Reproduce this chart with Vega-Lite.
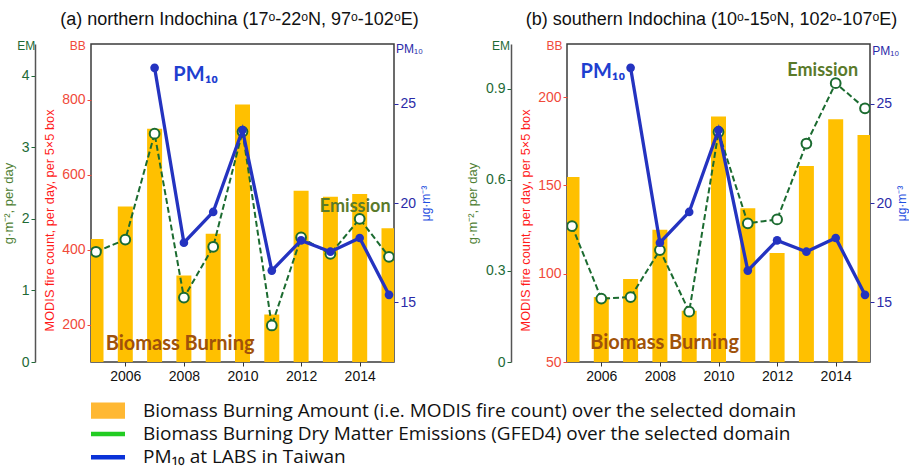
{
  "$schema": "https://vega.github.io/schema/vega-lite/v6.json",
  "padding": {"left": 1, "top": 10, "right": 0, "bottom": 0},
  "background": "white",
  "config": {
    "view": {"stroke": "#3b3b3b", "strokeWidth": 1.5},
    "axis": {"grid": false, "labelFont": "Liberation Sans", "titleFont": "Liberation Sans", "titleFontWeight": "normal", "labelFontSize": 14}
  },
  "datasets": {
    "bbA": [
      {"year": 2005, "bb": 428}, {"year": 2006, "bb": 515}, {"year": 2007, "bb": 722}, {"year": 2008, "bb": 331},
      {"year": 2009, "bb": 442}, {"year": 2010, "bb": 787}, {"year": 2011, "bb": 227}, {"year": 2012, "bb": 557},
      {"year": 2013, "bb": 541}, {"year": 2014, "bb": 548}, {"year": 2015, "bb": 457}
    ],
    "emA": [
      {"year": 2005, "em": 1.54}, {"year": 2006, "em": 1.71}, {"year": 2007, "em": 3.19}, {"year": 2008, "em": 0.9},
      {"year": 2009, "em": 1.61}, {"year": 2010, "em": 3.22}, {"year": 2011, "em": 0.51}, {"year": 2012, "em": 1.74},
      {"year": 2013, "em": 1.51}, {"year": 2014, "em": 2.0}, {"year": 2015, "em": 1.47}
    ],
    "bbB": [
      {"year": 2005, "bb": 154.7}, {"year": 2006, "bb": 86.8}, {"year": 2007, "bb": 97}, {"year": 2008, "bb": 124.9},
      {"year": 2009, "bb": 79}, {"year": 2010, "bb": 188.9}, {"year": 2011, "bb": 137}, {"year": 2012, "bb": 111.7},
      {"year": 2013, "bb": 160.9}, {"year": 2014, "bb": 187.4}, {"year": 2015, "bb": 178.5}
    ],
    "emB": [
      {"year": 2005, "em": 0.448}, {"year": 2006, "em": 0.209}, {"year": 2007, "em": 0.214}, {"year": 2008, "em": 0.369},
      {"year": 2009, "em": 0.166}, {"year": 2010, "em": 0.758}, {"year": 2011, "em": 0.457}, {"year": 2012, "em": 0.47},
      {"year": 2013, "em": 0.72}, {"year": 2014, "em": 0.919}, {"year": 2015, "em": 0.836}
    ],
    "pm": [
      {"year": 2007, "pm": 26.8}, {"year": 2008, "pm": 18.0}, {"year": 2009, "pm": 19.55}, {"year": 2010, "pm": 23.67},
      {"year": 2011, "pm": 16.6}, {"year": 2012, "pm": 18.12}, {"year": 2013, "pm": 17.55}, {"year": 2014, "pm": 18.24},
      {"year": 2015, "pm": 15.38}
    ],
    "legendRows": [
      {"label": "Biomass Burning Amount (i.e. MODIS fire count) over the selected domain", "kind": "box"},
      {"label": "Biomass Burning Dry Matter Emissions (GFED4) over the selected domain", "kind": "line"},
      {"label": "PM₁₀ at LABS in Taiwan", "kind": "line"}
    ]
  },
  "spacing": 355,
  "bounds": "flush",
  "vconcat": [
    {
      "spacing": 173,
      "bounds": "flush",
      "hconcat": [
        {
          "width": 303, "height": 318,
          "title": {"text": "(a) northern Indochina (17ᵒ-22ᵒN, 97ᵒ-102ᵒE)", "frame": "group", "anchor": "middle", "offset": 11, "fontSize": 18, "font": "Liberation Sans", "fontWeight": "normal", "color": "#111111", "dx": -3},
          "layer": [
            {
              "layer": [
                {
                  "data": {"name": "bbA"},
                  "mark": {"type": "bar", "width": 15, "clip": true, "color": "#FFC000"},
                  "encoding": {
                    "x": {"field": "year", "type": "quantitative", "scale": {"domain": [2005, 2015], "nice": false, "zero": false},
                      "axis": {"orient": "bottom", "values": [2006, 2008, 2010, 2012, 2014], "format": "d", "title": null, "domain": false, "tickSize": 4, "tickColor": "#333333", "labelColor": "#111111", "labelPadding": 3}},
                    "y": {"field": "bb", "type": "quantitative", "scale": {"domain": [100, 948], "nice": false, "zero": false},
                      "axis": {"orient": "left", "values": [200, 400, 600, 800], "domain": false, "tickSize": 4, "tickColor": "#f04a3a", "labelColor": "#f04a3a", "labelPadding": 2,
                        "title": "MODIS fire count, per day, per 5×5 box", "titleColor": "#ff1a1a", "titleFontSize": 12.8, "titlePadding": 5, "titleY": 176}}
                  }
                },
                {
                  "data": {"values": [{"year": 2005.33, "bb": 133, "label": "Biomass Burning"}]},
                  "mark": {"type": "text", "align": "left", "baseline": "alphabetic", "font": "Lato", "fontWeight": "bold", "fontSize": 20, "color": "#A0520A"},
                  "encoding": {"x": {"field": "year", "type": "quantitative"}, "y": {"field": "bb", "type": "quantitative"}, "text": {"field": "label"}}
                },
                {
                  "data": {"values": [{"year": 2004.65, "bb": 948, "label": "BB"}]},
                  "mark": {"type": "text", "align": "right", "baseline": "middle", "dy": 2, "font": "Liberation Sans", "fontSize": 12, "color": "#f04a3a"},
                  "encoding": {"x": {"field": "year", "type": "quantitative"}, "y": {"field": "bb", "type": "quantitative"}, "text": {"field": "label"}}
                }
              ]
            },
            {
              "layer": [
                {
                  "data": {"name": "emA"},
                  "mark": {"type": "line", "strokeDash": [6, 3], "strokeWidth": 2, "color": "#1b6b30", "clip": true},
                  "encoding": {
                    "x": {"field": "year", "type": "quantitative"},
                    "y": {"field": "em", "type": "quantitative", "scale": {"domain": [0, 4.443], "nice": false, "zero": false},
                      "axis": {"orient": "left", "offset": 56, "values": [0, 1, 2, 3, 4], "format": "d", "domainColor": "#555555", "domainWidth": 1.5, "tickSize": 4, "tickColor": "#1e6a35", "labelColor": "#1e6a35", "labelPadding": 2,
                        "title": "g·m⁻², per day", "titleColor": "#4f7f35", "titleFontSize": 13, "titlePadding": 6}}
                  }
                },
                {
                  "data": {"name": "emA"},
                  "mark": {"type": "point", "filled": true, "fill": "white", "stroke": "#1b6b30", "strokeWidth": 2, "size": 95, "opacity": 1, "clip": true},
                  "encoding": {"x": {"field": "year", "type": "quantitative"}, "y": {"field": "em", "type": "quantitative"}}
                },
                {
                  "data": {"values": [{"year": 2012.64, "em": 2.1, "label": "Emission"}]},
                  "mark": {"type": "text", "align": "left", "baseline": "alphabetic", "font": "Lato", "fontWeight": "bold", "fontSize": 18, "color": "#5a7a2a"},
                  "encoding": {"x": {"field": "year", "type": "quantitative"}, "y": {"field": "em", "type": "quantitative"}, "text": {"field": "label"}}
                },
                {
                  "data": {"values": [{"year": 2002.93, "em": 4.443, "label": "EM"}]},
                  "mark": {"type": "text", "align": "right", "baseline": "middle", "dy": 2, "font": "Liberation Sans", "fontSize": 12, "color": "#1e6a35"},
                  "encoding": {"x": {"field": "year", "type": "quantitative"}, "y": {"field": "em", "type": "quantitative"}, "text": {"field": "label"}}
                }
              ]
            },
            {
              "layer": [
                {
                  "data": {"name": "pm"},
                  "mark": {"type": "line", "strokeWidth": 3.3, "color": "#2433c0", "clip": true},
                  "encoding": {
                    "x": {"field": "year", "type": "quantitative"},
                    "y": {"field": "pm", "type": "quantitative", "scale": {"domain": [12, 28], "nice": false, "zero": false},
                      "axis": {"orient": "right", "values": [15, 20, 25], "domain": false, "tickSize": 4, "tickColor": "#2a2aa8", "labelColor": "#2a2aa8", "labelPadding": 2,
                        "title": "μg·m⁻³", "titleAngle": 270, "titleBaseline": "top", "titleColor": "#1f4fe0", "titleFontSize": 12, "titlePadding": 5}}
                  }
                },
                {
                  "data": {"name": "pm"},
                  "mark": {"type": "point", "filled": true, "color": "#2433c0", "size": 75, "opacity": 1, "clip": true},
                  "encoding": {"x": {"field": "year", "type": "quantitative"}, "y": {"field": "pm", "type": "quantitative"}}
                },
                {
                  "data": {"values": [{"year": 2007.64, "pm": 26.16, "label": "PM₁₀"}]},
                  "mark": {"type": "text", "align": "left", "baseline": "alphabetic", "font": "Lato", "fontWeight": "bold", "fontSize": 20, "color": "#1f3fd0"},
                  "encoding": {"x": {"field": "year", "type": "quantitative"}, "y": {"field": "pm", "type": "quantitative"}, "text": {"field": "label"}}
                },
                {
                  "data": {"values": [{"year": 2015.24, "pm": 27.75, "label": "PM₁₀"}]},
                  "mark": {"type": "text", "align": "left", "baseline": "middle", "font": "Liberation Sans", "fontSize": 12, "color": "#2a2aa8"},
                  "encoding": {"x": {"field": "year", "type": "quantitative"}, "y": {"field": "pm", "type": "quantitative"}, "text": {"field": "label"}}
                }
              ]
            }
          ],
          "resolve": {"scale": {"y": "independent"}, "axis": {"y": "independent"}}
        },
        {
          "width": 303, "height": 318,
          "title": {"text": "(b) southern Indochina (10ᵒ-15ᵒN, 102ᵒ-107ᵒE)", "frame": "group", "anchor": "middle", "offset": 11, "fontSize": 18, "font": "Liberation Sans", "fontWeight": "normal", "color": "#111111", "dx": -7},
          "layer": [
            {
              "layer": [
                {
                  "data": {"name": "bbB"},
                  "mark": {"type": "bar", "width": 15, "clip": true, "color": "#FFC000"},
                  "encoding": {
                    "x": {"field": "year", "type": "quantitative", "scale": {"domain": [2005, 2015], "nice": false, "zero": false},
                      "axis": {"orient": "bottom", "values": [2006, 2008, 2010, 2012, 2014], "format": "d", "title": null, "domain": false, "tickSize": 4, "tickColor": "#333333", "labelColor": "#111111", "labelPadding": 3}},
                    "y": {"field": "bb", "type": "quantitative", "scale": {"domain": [50, 230], "nice": false, "zero": false},
                      "axis": {"orient": "left", "values": [50, 100, 150, 200], "domain": false, "tickSize": 4, "tickColor": "#f04a3a", "labelColor": "#f04a3a", "labelPadding": 2,
                        "title": "MODIS fire count, per day, per 5×5 box", "titleColor": "#ff1a1a", "titleFontSize": 12.8, "titlePadding": 5, "titleY": 176}}
                  }
                },
                {
                  "data": {"values": [{"year": 2005.62, "bb": 57.2, "label": "Biomass Burning"}]},
                  "mark": {"type": "text", "align": "left", "baseline": "alphabetic", "font": "Lato", "fontWeight": "bold", "fontSize": 20, "color": "#A0520A"},
                  "encoding": {"x": {"field": "year", "type": "quantitative"}, "y": {"field": "bb", "type": "quantitative"}, "text": {"field": "label"}}
                },
                {
                  "data": {"values": [{"year": 2004.68, "bb": 230, "label": "BB"}]},
                  "mark": {"type": "text", "align": "right", "baseline": "middle", "dy": 2, "font": "Liberation Sans", "fontSize": 12, "color": "#f04a3a"},
                  "encoding": {"x": {"field": "year", "type": "quantitative"}, "y": {"field": "bb", "type": "quantitative"}, "text": {"field": "label"}}
                }
              ]
            },
            {
              "layer": [
                {
                  "data": {"name": "emB"},
                  "mark": {"type": "line", "strokeDash": [6, 3], "strokeWidth": 2, "color": "#1b6b30", "clip": true},
                  "encoding": {
                    "x": {"field": "year", "type": "quantitative"},
                    "y": {"field": "em", "type": "quantitative", "scale": {"domain": [0, 1.048], "nice": false, "zero": false},
                      "axis": {"orient": "left", "offset": 56, "values": [0, 0.3, 0.6, 0.9], "format": "~g", "domainColor": "#555555", "domainWidth": 1.5, "tickSize": 4, "tickColor": "#1e6a35", "labelColor": "#1e6a35", "labelPadding": 2,
                        "title": "g·m⁻², per day", "titleColor": "#4f7f35", "titleFontSize": 13, "titlePadding": 6}}
                  }
                },
                {
                  "data": {"name": "emB"},
                  "mark": {"type": "point", "filled": true, "fill": "white", "stroke": "#1b6b30", "strokeWidth": 2, "size": 95, "opacity": 1, "clip": true},
                  "encoding": {"x": {"field": "year", "type": "quantitative"}, "y": {"field": "em", "type": "quantitative"}}
                },
                {
                  "data": {"values": [{"year": 2012.35, "em": 0.941, "label": "Emission"}]},
                  "mark": {"type": "text", "align": "left", "baseline": "alphabetic", "font": "Lato", "fontWeight": "bold", "fontSize": 18, "color": "#5a7a2a"},
                  "encoding": {"x": {"field": "year", "type": "quantitative"}, "y": {"field": "em", "type": "quantitative"}, "text": {"field": "label"}}
                },
                {
                  "data": {"values": [{"year": 2002.88, "em": 1.048, "label": "EM"}]},
                  "mark": {"type": "text", "align": "right", "baseline": "middle", "dy": 2, "font": "Liberation Sans", "fontSize": 12, "color": "#1e6a35"},
                  "encoding": {"x": {"field": "year", "type": "quantitative"}, "y": {"field": "em", "type": "quantitative"}, "text": {"field": "label"}}
                }
              ]
            },
            {
              "layer": [
                {
                  "data": {"name": "pm"},
                  "mark": {"type": "line", "strokeWidth": 3.3, "color": "#2433c0", "clip": true},
                  "encoding": {
                    "x": {"field": "year", "type": "quantitative"},
                    "y": {"field": "pm", "type": "quantitative", "scale": {"domain": [12, 28], "nice": false, "zero": false},
                      "axis": {"orient": "right", "values": [15, 20, 25], "domain": false, "tickSize": 4, "tickColor": "#2a2aa8", "labelColor": "#2a2aa8", "labelPadding": 2,
                        "title": "μg·m⁻³", "titleAngle": 270, "titleBaseline": "top", "titleColor": "#1f4fe0", "titleFontSize": 12, "titlePadding": 5}}
                  }
                },
                {
                  "data": {"name": "pm"},
                  "mark": {"type": "point", "filled": true, "color": "#2433c0", "size": 75, "opacity": 1, "clip": true},
                  "encoding": {"x": {"field": "year", "type": "quantitative"}, "y": {"field": "pm", "type": "quantitative"}}
                },
                {
                  "data": {"values": [{"year": 2005.29, "pm": 26.3, "label": "PM₁₀"}]},
                  "mark": {"type": "text", "align": "left", "baseline": "alphabetic", "font": "Lato", "fontWeight": "bold", "fontSize": 20, "color": "#1f3fd0"},
                  "encoding": {"x": {"field": "year", "type": "quantitative"}, "y": {"field": "pm", "type": "quantitative"}, "text": {"field": "label"}}
                },
                {
                  "data": {"values": [{"year": 2015.25, "pm": 27.66, "label": "PM₁₀"}]},
                  "mark": {"type": "text", "align": "left", "baseline": "middle", "font": "Liberation Sans", "fontSize": 12, "color": "#2a2aa8"},
                  "encoding": {"x": {"field": "year", "type": "quantitative"}, "y": {"field": "pm", "type": "quantitative"}, "text": {"field": "label"}}
                }
              ]
            }
          ],
          "resolve": {"scale": {"y": "independent"}, "axis": {"y": "independent"}}
        }
      ]
    },
    {
      "width": 34, "height": 70,
      "view": {"stroke": null},
      "data": {"name": "legendRows"},
      "layer": [
        {"transform": [{"filter": "datum.kind === 'box'"}], "mark": {"type": "bar", "color": "#FFB833"},
         "encoding": {
           "x": {"datum": 0, "type": "quantitative", "scale": {"domain": [0, 1], "nice": false}, "axis": null},
           "x2": {"datum": 1},
           "y": {"field": "label", "type": "nominal", "sort": null, "scale": {"domain": ["Biomass Burning Amount (i.e. MODIS fire count) over the selected domain", "Biomass Burning Dry Matter Emissions (GFED4) over the selected domain", "PM₁₀ at LABS in Taiwan"], "paddingInner": 0.31, "paddingOuter": 0.155}, "axis": null}}},
        {"transform": [{"filter": "datum.kind === 'line'"}], "mark": {"type": "rule", "strokeWidth": 4.5},
         "encoding": {
           "x": {"datum": 0, "type": "quantitative"}, "x2": {"datum": 1},
           "y": {"field": "label", "type": "nominal", "sort": null},
           "color": {"field": "label", "type": "nominal", "sort": null, "scale": {"domain": ["Biomass Burning Dry Matter Emissions (GFED4) over the selected domain", "PM₁₀ at LABS in Taiwan"], "range": ["#22CC22", "#0A32D8"]}, "legend": null}}},
        {"mark": {"type": "text", "align": "left", "baseline": "middle", "dx": 18, "font": "Open Sans", "fontSize": 19, "color": "#111111"},
         "encoding": {
           "x": {"datum": 1, "type": "quantitative"},
           "y": {"field": "label", "type": "nominal", "sort": null},
           "text": {"field": "label"}}}
      ]
    }
  ]
}
